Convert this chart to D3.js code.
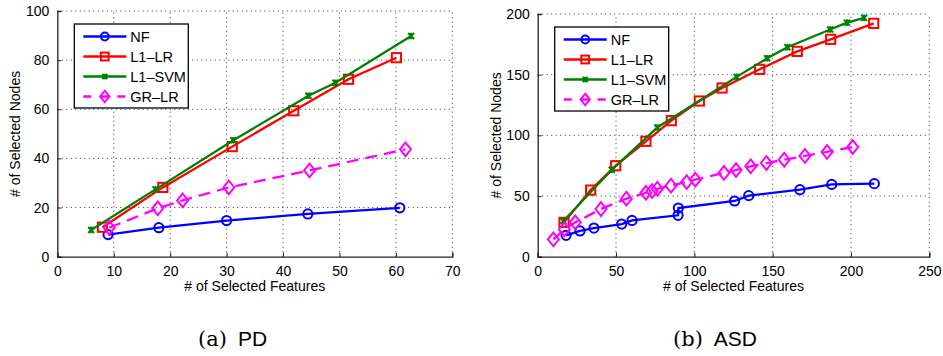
<!DOCTYPE html>
<html>
<head>
<meta charset="utf-8">
<script src="https://cdn.jsdelivr.net/npm/d3@7"></script>
<style>
  html, body { margin: 0; padding: 0; background: #fff; }
  svg { display: block; }
  text { font-family: "Liberation Sans", Arial, Helvetica, sans-serif; fill: #000; }
</style>
</head>
<body>
<svg id="chart" width="943" height="356"></svg>
<script>
// ---------- Data ----------
const seriesNames = ["NF", "L1\u2013LR", "L1\u2013SVM", "GR\u2013LR"];

// Panel (a) PD
const pdNF_x    = [9, 18, 30, 44.4, 60.7];
const pdNF_y    = [9, 11.8, 14.7, 17.4, 19.9];
const pdL1LR_x  = [8, 18.7, 31, 41.9, 51.6, 60.1];
const pdL1LR_y  = [12, 28.2, 44.8, 59.4, 72.2, 81];
const pdL1SVM_x = [6, 17.4, 31.2, 44.5, 49.3, 62.7];
const pdL1SVM_y = [10.9, 27.4, 47.4, 65.5, 70.8, 89.8];
const pdGRLR_x  = [9.2, 17.8, 22.2, 30.4, 44.7, 61.7];
const pdGRLR_y  = [11.8, 19.7, 22.9, 28.2, 35.1, 43.7];

// Panel (b) ASD
const asdNF_x    = [18.1, 27, 35.9, 53.6, 60.2, 89.6, 89.8, 125.7, 134.7, 167.4, 187.7, 214.9];
const asdNF_y    = [17.6, 21.2, 23.6, 26.9, 29.9, 34.1, 40.1, 45.9, 50.3, 55.2, 59.6, 60.2];
const asdL1LR_x  = [16.8, 33.8, 49.8, 69.1, 85.3, 103.2, 117.7, 141.7, 165.7, 187, 214.5];
const asdL1LR_y  = [28.3, 54.9, 75, 95.1, 112.1, 128.3, 139, 154.4, 169.2, 179.1, 192.3];
const asdL1SVM_x = [16.4, 47.3, 76.4, 127, 146.5, 159.4, 186.7, 197.4, 208.4];
const asdL1SVM_y = [29.4, 71.6, 106.5, 148.2, 163.5, 172.6, 187.2, 192.9, 196.8];
const asdGRLR_x  = [10, 17, 24, 40.4, 56.6, 69.1, 73, 76.4, 85.1, 95.1, 100.6, 118.9, 126.6, 136, 146, 157.4, 170.6, 184.7, 201.1];
const asdGRLR_y  = [14.3, 22.5, 28.3, 39.3, 47.8, 52.7, 54.1, 56, 58.5, 61.5, 63.5, 69, 71.4, 74.5, 77.2, 79.9, 83, 86.3, 90.4];

// Axis ticks
const pdXTicks  = [0, 10, 20, 30, 40, 50, 60, 70];
const pdYTicks  = [0, 20, 40, 60, 80, 100];
const asdXTicks = [0, 50, 100, 150, 200, 250];
const asdYTicks = [0, 50, 100, 150, 200];

const xLabel = "# of Selected Features";
const yLabel = "# of Selected Nodes";
const captions = [["(a)", "PD"], ["(b)", "ASD"]];

// ---------- Styles ----------
const styles = [
  { color: "#0000ff", marker: "circle",  dash: null },
  { color: "#ff0000", marker: "square",  dash: null },
  { color: "#008000", marker: "star",    dash: null },
  { color: "#ff00ff", marker: "diamond", dash: "12,7" }
];

const svg = d3.select("#chart");

function zip(xs, ys) { return xs.map((x, i) => [x, ys[i]]); }

function drawMarker(g, type, color, cx, cy, scale) {
  const s = scale || 1;
  if (type === "circle") {
    g.append("circle").attr("cx", cx).attr("cy", cy).attr("r", 4.6 * s)
      .attr("fill", "none").attr("stroke", color).attr("stroke-width", 2);
  } else if (type === "square") {
    const h = 4.6 * s;
    g.append("rect").attr("x", cx - h).attr("y", cy - h).attr("width", 2 * h).attr("height", 2 * h)
      .attr("fill", "none").attr("stroke", color).attr("stroke-width", 2);
  } else if (type === "diamond") {
    const w = 5.5 * s, h = 6.8 * s;
    g.append("path").attr("d", `M${cx},${cy - h}L${cx + w},${cy}L${cx},${cy + h}L${cx - w},${cy}Z`)
      .attr("fill", "none").attr("stroke", color).attr("stroke-width", 2);
  } else if (type === "star") {
    const h = 3 * s;
    g.append("path").attr("d",
      `M${cx - h},${cy - h}L${cx + h},${cy + h}M${cx - h},${cy + h}L${cx + h},${cy - h}M${cx},${cy - h * 1.1}L${cx},${cy + h * 1.1}`)
      .attr("fill", "none").attr("stroke", color).attr("stroke-width", 2);
  }
}

function panel(cfg) {
  const { left, right, top, bottom, xDomain, yDomain, xTicks, yTicks, data, caption, yLabelX } = cfg;
  const x = d3.scaleLinear().domain(xDomain).range([left, right]);
  const y = d3.scaleLinear().domain(yDomain).range([bottom, top]);
  const g = svg.append("g");

  // grid
  const grid = g.append("g").attr("stroke", "#333").attr("stroke-width", 1).attr("stroke-dasharray", "1,3.5");
  xTicks.forEach(t => {
    if (t === xDomain[0]) return;
    grid.append("line").attr("x1", x(t)).attr("x2", x(t)).attr("y1", bottom).attr("y2", top);
  });
  yTicks.forEach(t => {
    if (t === yDomain[0]) return;
    grid.append("line").attr("x1", left).attr("x2", right).attr("y1", y(t)).attr("y2", y(t));
  });

  // axes
  const xAxis = d3.axisBottom(x).tickValues(xTicks).tickSize(-4).tickPadding(9).tickFormat(d3.format("d"));
  const yAxis = d3.axisLeft(y).tickValues(yTicks).tickSize(-4).tickPadding(8).tickFormat(d3.format("d"));
  const gx = g.append("g").attr("transform", `translate(0,${bottom})`).call(xAxis);
  const gy = g.append("g").attr("transform", `translate(${left},0)`).call(yAxis);
  [gx, gy].forEach(a => {
    a.attr("font-family", null);
    a.select(".domain").attr("stroke", "#222").attr("stroke-width", 1.3);
    a.selectAll(".tick line").attr("stroke", "#222");
    a.selectAll(".tick text").attr("font-size", "14px").attr("fill", "#000");
  });

  // labels
  g.append("text").attr("x", (left + right) / 2).attr("y", 291).attr("text-anchor", "middle")
    .attr("font-size", "14px").text(xLabel);
  g.append("text").attr("transform", `translate(${yLabelX},${(top + bottom) / 2}) rotate(-90)`)
    .attr("text-anchor", "middle").attr("font-size", "14px").text(yLabel);

  // series
  const line = d3.line().x(d => x(d[0])).y(d => y(d[1]));
  data.forEach((pts, i) => {
    const st = styles[i];
    const sg = g.append("g");
    sg.append("path").attr("d", line(pts)).attr("fill", "none").attr("stroke", st.color)
      .attr("stroke-width", 2.3).attr("stroke-dasharray", st.dash);
    pts.forEach(p => drawMarker(sg, st.marker, st.color, x(p[0]), y(p[1])));
  });

  // legend
  const lx = left + 17, ly = top + 13, lw = 114, lh = 84;
  const lg = g.append("g");
  lg.append("rect").attr("x", lx).attr("y", ly).attr("width", lw).attr("height", lh)
    .attr("fill", "#fff").attr("stroke", "#000").attr("stroke-width", 1.3);
  seriesNames.forEach((name, i) => {
    const st = styles[i];
    const ry = ly + 12.5 + i * 20;
    lg.append("line").attr("x1", lx + 9).attr("x2", lx + 52).attr("y1", ry).attr("y2", ry)
      .attr("stroke", st.color).attr("stroke-width", 2.3).attr("stroke-dasharray", st.dash ? "8,9" : null);
    drawMarker(lg, st.marker, st.color, lx + 30.5, ry, 0.85);
    lg.append("text").attr("x", lx + 56).attr("y", ry + 5).attr("font-size", "14.5px").text(name);
  });

  // caption
  const cap = g.append("text").attr("x", cfg.capX).attr("y", 346).attr("font-size", "21px");
  cap.append("tspan").style("font-family", '"DejaVu Serif", "Liberation Serif", serif').text(caption[0]);
  cap.append("tspan").attr("dx", 11).text(caption[1]);
}

panel({
  left: 57.3, right: 452.3, top: 11, bottom: 256.7,
  xDomain: [0, 70], yDomain: [0, 100], xTicks: pdXTicks, yTicks: pdYTicks,
  data: [zip(pdNF_x, pdNF_y), zip(pdL1LR_x, pdL1LR_y), zip(pdL1SVM_x, pdL1SVM_y), zip(pdGRLR_x, pdGRLR_y)],
  caption: captions[0], capX: 198, yLabelX: 20
});

panel({
  left: 537.7, right: 929.3, top: 14, bottom: 256.7,
  xDomain: [0, 250], yDomain: [0, 200], xTicks: asdXTicks, yTicks: asdYTicks,
  data: [zip(asdNF_x, asdNF_y), zip(asdL1LR_x, asdL1LR_y), zip(asdL1SVM_x, asdL1SVM_y), zip(asdGRLR_x, asdGRLR_y)],
  caption: captions[1], capX: 673, yLabelX: 501
});
</script>
</body>
</html>
